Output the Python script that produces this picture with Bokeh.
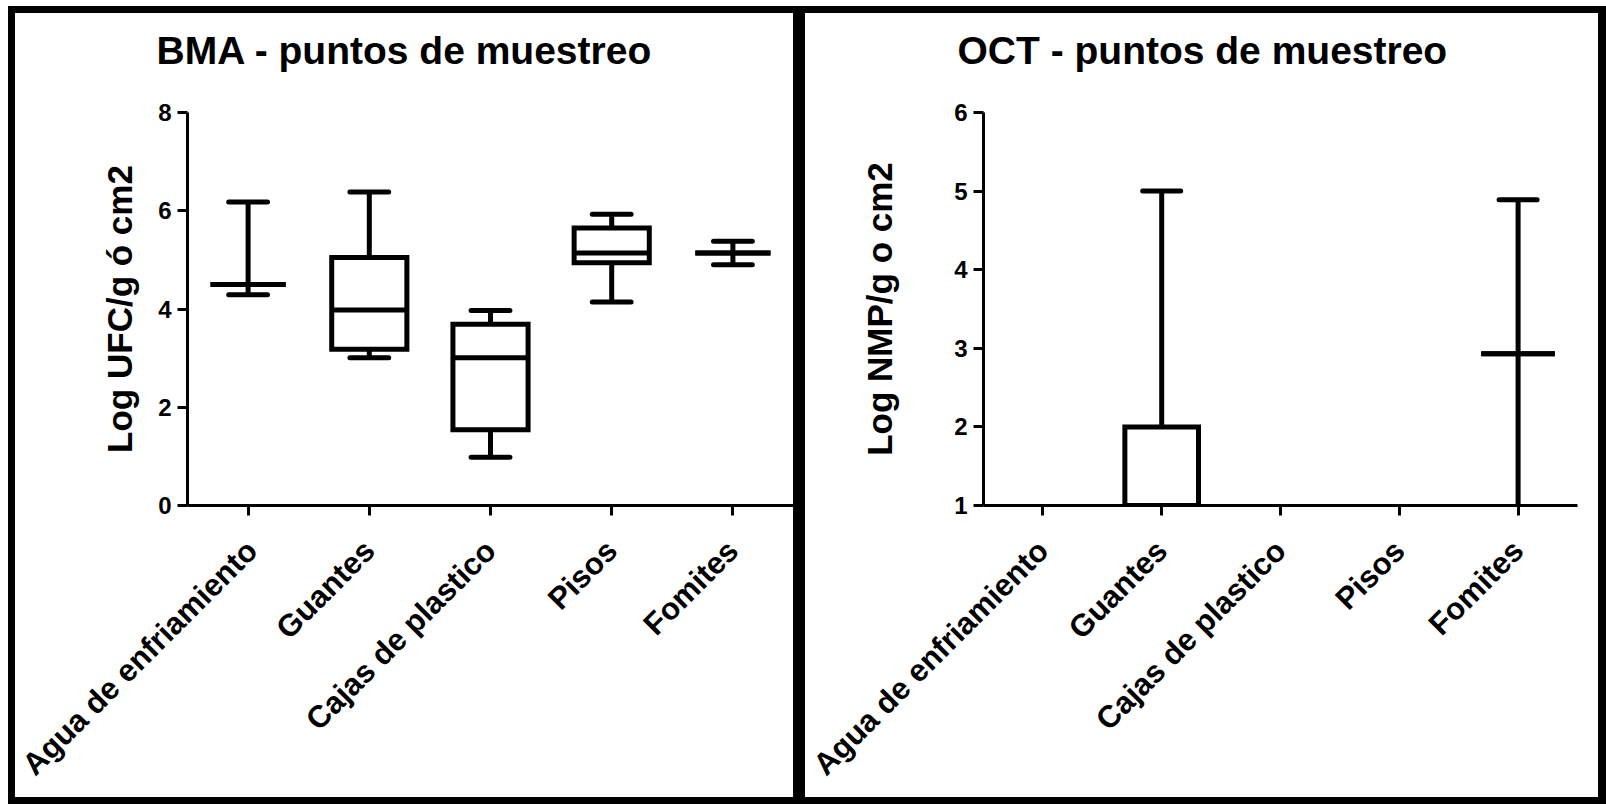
import math
from bokeh.plotting import figure
from bokeh.layouts import row
from bokeh.models import ColumnDataSource, FixedTicker, FactorRange, Range1d, Title
from bokeh.transform import dodge
from bokeh.embed import file_html
from bokeh.resources import INLINE

categories = ["Agua de enfriamiento", "Guantes", "Cajas de plastico", "Pisos", "Fomites"]

# BMA panel (Log UFC/g ó cm2)
bma_min = [4.29, 3.01, 0.98, 4.14, 4.90]
bma_q1 = [4.50, 3.18, 1.54, 4.94, 5.14]
bma_median = [4.50, 3.98, 3.01, 5.14, 5.14]
bma_q3 = [4.50, 5.05, 3.69, 5.65, 5.14]
bma_max = [6.18, 6.38, 3.97, 5.93, 5.38]
bma_ticks = [0, 2, 4, 6, 8]

# OCT panel (Log NMP/g o cm2)
oct_min = [1.0, 1.0, 1.0, 1.0, 1.0]
oct_q1 = [1.0, 1.0, 1.0, 1.0, 2.93]
oct_median = [1.0, 1.0, 1.0, 1.0, 2.93]
oct_q3 = [1.0, 2.0, 1.0, 1.0, 2.93]
oct_max = [1.0, 5.0, 1.0, 1.0, 4.89]
oct_ticks = [1, 2, 3, 4, 5, 6]

FONT = "Liberation Sans"


def make_panel(title, ylabel, mins, q1s, meds, q3s, maxs, ticks, w, h,
               bl, br, bt, bb, title_offset, label_standoff):
    p = figure(x_range=FactorRange(*categories),
               y_range=Range1d(ticks[0], ticks[-1]),
               width=w, height=h, output_backend="svg", toolbar_location=None,
               min_border_left=bl, min_border_right=br,
               min_border_top=bt, min_border_bottom=bb, title=None,
               styles={"background-color": "white"})
    p.background_fill_color = "white"
    p.border_fill_color = "white"
    p.outline_line_color = None
    p.xgrid.grid_line_color = None
    p.ygrid.grid_line_color = None

    # spacer between frame and title, then the title itself (outermost)
    p.add_layout(Title(text=" ", text_font_size="12px", standoff=20,
                       text_color="white"), "above")
    p.add_layout(Title(text=title, align="left", offset=title_offset,
                       text_font=FONT, text_font_size="39px",
                       text_font_style="bold", text_color="black"), "above")

    # keep only categories that have a visible spread
    keep = [i for i in range(len(categories)) if maxs[i] > mins[i]]
    src = ColumnDataSource(dict(
        cat=[categories[i] for i in keep],
        mn=[mins[i] for i in keep],
        q1=[q1s[i] for i in keep],
        med=[meds[i] for i in keep],
        q3=[q3s[i] for i in keep],
        mx=[maxs[i] for i in keep],
    ))
    keep_low = [i for i in keep if mins[i] > ticks[0]]
    src_low = ColumnDataSource(dict(
        cat=[categories[i] for i in keep_low],
        mn=[mins[i] for i in keep_low],
    ))

    lw = 5
    p.segment(x0="cat", y0="q3", x1="cat", y1="mx", source=src,
              line_color="black", line_width=lw)
    p.segment(x0="cat", y0="mn", x1="cat", y1="q1", source=src,
              line_color="black", line_width=lw)
    p.segment(x0=dodge("cat", -0.16, range=p.x_range), y0="mx",
              x1=dodge("cat", 0.16, range=p.x_range), y1="mx", source=src,
              line_color="black", line_width=lw, line_cap="round")
    p.segment(x0=dodge("cat", -0.16, range=p.x_range), y0="mn",
              x1=dodge("cat", 0.16, range=p.x_range), y1="mn", source=src_low,
              line_color="black", line_width=lw, line_cap="round")
    p.vbar(x="cat", width=0.62, bottom="q1", top="q3", source=src,
           fill_color="white", line_color="black", line_width=lw,
           line_join="miter")
    p.segment(x0=dodge("cat", -0.31, range=p.x_range), y0="med",
              x1=dodge("cat", 0.31, range=p.x_range), y1="med", source=src,
              line_color="black", line_width=lw)

    # y axis
    ya = p.yaxis[0]
    ya.ticker = FixedTicker(ticks=ticks)
    ya.minor_tick_line_color = None
    ya.axis_line_width = 3
    ya.axis_line_color = "black"
    ya.major_tick_line_width = 3
    ya.major_tick_line_color = "black"
    ya.major_tick_out = 10
    ya.major_tick_in = 0
    ya.major_label_text_font = FONT
    ya.major_label_text_font_size = "24px"
    ya.major_label_text_font_style = "bold"
    ya.major_label_text_color = "black"
    ya.major_label_standoff = 6
    ya.axis_label = ylabel
    ya.axis_label_text_font = FONT
    ya.axis_label_text_font_size = "35px"
    ya.axis_label_text_font_style = "bold"
    ya.axis_label_text_color = "black"
    ya.axis_label_standoff = label_standoff

    # x axis
    xa = p.xaxis[0]
    xa.axis_line_width = 3
    xa.axis_line_color = "black"
    xa.major_tick_line_width = 3
    xa.major_tick_line_color = "black"
    xa.major_tick_out = 10
    xa.major_tick_in = 0
    xa.major_label_orientation = math.pi / 4
    xa.major_label_text_font = FONT
    xa.major_label_text_font_size = "31px"
    xa.major_label_text_font_style = "bold"
    xa.major_label_text_color = "black"
    xa.major_label_standoff = 30
    return p


p1 = make_panel("BMA - puntos de muestreo", "Log UFC/g ó cm2",
                bma_min, bma_q1, bma_median, bma_q3, bma_max, bma_ticks,
                778, 784, 172, 0, 96, 292, -31, 16)
p2 = make_panel("OCT - puntos de muestreo", "Log NMP/g o cm2",
                oct_min, oct_q1, oct_median, oct_q3, oct_max, oct_ticks,
                793, 784, 178, 21, 99, 291, -26, 52)

p1.margin = (7, 0, 7, 7)
p2.margin = (7, 8, 7, 12)

layout = row(p1, p2, spacing=0, styles={"background-color": "black"})
layout.margin = (6, 0, 0, 8)

open("out.html", "w").write(file_html(layout, INLINE))
